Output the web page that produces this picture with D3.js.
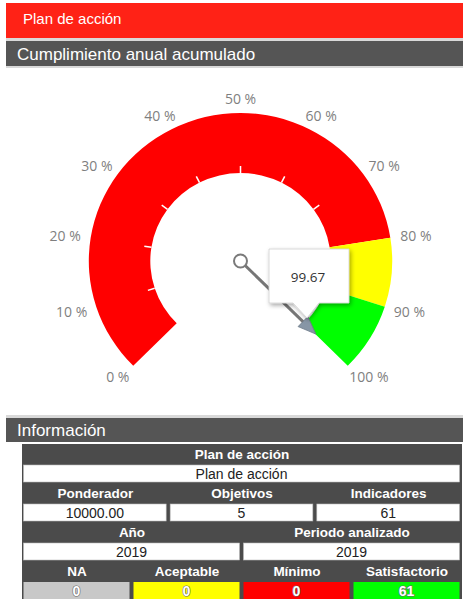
<!DOCTYPE html>
<html><head><meta charset="utf-8">
<script src="https://cdn.jsdelivr.net/npm/d3@7"></script>
<style>body{margin:0;background:#fff;overflow:hidden}svg{display:block}</style>
</head><body>
<script>
// ---- data ----
const titleMain = "Plan de acción";
const titleGauge = "Cumplimiento anual acumulado";
const titleInfo = "Información";
const gaugeValue = 99.67;
const bandFrom = [0, 80, 90];
const bandTo = [80, 90, 100];
const bandColors = ["#ff0000", "#ffff00", "#00ff00"];
const tickValues = [0, 10, 20, 30, 40, 50, 60, 70, 80, 90, 100];
const minorTicks = [10, 20, 30, 40, 50, 60, 70];
const rowHeaders1 = ["Plan de acción"];
const rowValues1 = ["Plan de acción"];
const rowHeaders2 = ["Ponderador", "Objetivos", "Indicadores"];
const rowValues2 = ["10000.00", "5", "61"];
const rowHeaders3 = ["Año", "Periodo analizado"];
const rowValues3 = ["2019", "2019"];
const rowHeaders4 = ["NA", "Aceptable", "Mínimo", "Satisfactorio"];
const rowValues4 = ["0", "0", "0", "61"];
const rowColors4 = ["#c8c8c8", "#ffff00", "#ff0000", "#00ff00"];

const W = 463, H = 599;
const svg = d3.select("body").append("svg").attr("width", W).attr("height", H);
const defs = svg.append("defs");
const f = defs.append("filter").attr("id", "sh").attr("x", "-30%").attr("y", "-30%").attr("width", "160%").attr("height", "160%");
f.append("feDropShadow").attr("dx", 1.5).attr("dy", 2).attr("stdDeviation", 2).attr("flood-color", "#000").attr("flood-opacity", 0.35);

// ---- header bars ----
svg.append("rect").attr("x", 6).attr("y", 3).attr("width", W - 6).attr("height", 35).attr("fill", "#ff2216");
svg.append("text").attr("x", 23).attr("y", 24).attr("fill", "#fff")
  .attr("font-family", "Liberation Sans, Arial, sans-serif").attr("font-size", 15).text(titleMain);
svg.append("rect").attr("x", 6).attr("y", 38).attr("width", W - 6).attr("height", 3).attr("fill", "#d9d9d9");
svg.append("rect").attr("x", 6).attr("y", 41).attr("width", W - 6).attr("height", 25).attr("fill", "#555555");
svg.append("rect").attr("x", 6).attr("y", 66).attr("width", W - 6).attr("height", 2).attr("fill", "#d9d9d9");
svg.append("text").attr("x", 17).attr("y", 59.5).attr("fill", "#fff")
  .attr("font-family", "Liberation Sans, Arial, sans-serif").attr("font-size", 17).text(titleGauge);

// ---- gauge ----
const cx = 240.5, cy = 261, rOut = 148, rIn = 88, sx = 1.025;
const ang = d3.scaleLinear().domain([0, 100]).range([-135, 135]);
const rad = d => ang(d) * Math.PI / 180;
const g = svg.append("g").attr("transform", `translate(${cx},${cy})`);
const ga = g.append("g").attr("transform", `scale(${sx},1)`);
const arc = d3.arc().innerRadius(rIn).outerRadius(rOut);
ga.selectAll("path.band").data(bandFrom).join("path").attr("class", "band")
  .attr("d", (d, i) => arc({startAngle: rad(d), endAngle: rad(bandTo[i])}))
  .attr("fill", (d, i) => bandColors[i]);
ga.selectAll("line.tick").data(minorTicks).join("line").attr("class", "tick")
  .attr("x1", d => Math.sin(rad(d)) * rIn).attr("y1", d => -Math.cos(rad(d)) * rIn)
  .attr("x2", d => Math.sin(rad(d)) * (rIn + 7)).attr("y2", d => -Math.cos(rad(d)) * (rIn + 7))
  .attr("stroke", "#fff").attr("stroke-width", 1.5);
const labels = g.selectAll("text.lbl").data(tickValues).join("text").attr("class", "lbl")
  .attr("font-family", "Open Sans, Liberation Sans, sans-serif").attr("font-size", 14)
  .attr("fill", "#7f7f7f").attr("text-anchor", "middle").attr("dominant-baseline", "central")
  .text(d => d + " %");
labels.each(function(d) {
  const w = this.getComputedTextLength();
  const a = rad(d);
  const R = 157;
  const x = Math.sin(a) * R * sx + Math.sin(a) * (w / 2 + 1);
  const y = -Math.cos(a) * R - Math.cos(a) * 6;
  d3.select(this).attr("x", x).attr("y", y);
});

// needle
const na = rad(gaugeValue);
const nLen = 105;
const ux = Math.sin(na), uy = -Math.cos(na);
const tipX = ux * nLen, tipY = uy * nLen;
g.append("line").attr("x1", ux * 6.5).attr("y1", uy * 6.5)
  .attr("x2", ux * (nLen - 14)).attr("y2", uy * (nLen - 14))
  .attr("stroke", "#767676").attr("stroke-width", 3);
const px = -uy, py = ux;
g.append("path")
  .attr("d", `M${tipX},${tipY} L${ux*(nLen-18)+px*7},${uy*(nLen-18)+py*7} L${ux*(nLen-18)-px*7},${uy*(nLen-18)-py*7} Z`)
  .attr("fill", "#8796a6").attr("stroke", "#6c7a88").attr("stroke-width", 0.8);
g.append("circle").attr("r", 6.5).attr("fill", "#fff").attr("stroke", "#7a7a7a").attr("stroke-width", 2);

// tooltip
const bx = 269, by = 249, bw = 80, bh = 54;
const tip = svg.append("g");
tip.append("path")
  .attr("d", `M${bx},${by} H${bx+bw} V${by+bh} H${bx+50} L${bx+38},${by+bh+15} L${bx+24},${by+bh} H${bx} Z`)
  .attr("fill", "#fff").attr("stroke", "#d0d0d0").attr("stroke-width", 0.8).attr("filter", "url(#sh)");
tip.append("text").attr("x", bx + bw / 2 - 1).attr("y", by + bh / 2 + 1).attr("text-anchor", "middle")
  .attr("dominant-baseline", "central").attr("font-family", "Open Sans, sans-serif").attr("font-size", 13.5)
  .attr("fill", "#333").text(gaugeValue.toFixed(2));

// ---- info header ----
svg.append("rect").attr("x", 6).attr("y", 415).attr("width", W - 6).attr("height", 3).attr("fill", "#d9d9d9");
svg.append("rect").attr("x", 6).attr("y", 418).attr("width", W - 6).attr("height", 24).attr("fill", "#555555");
svg.append("text").attr("x", 17).attr("y", 435.5).attr("fill", "#fff")
  .attr("font-family", "Liberation Sans, Arial, sans-serif").attr("font-size", 17).text(titleInfo);

// ---- table ----
const tx = 22, tw = W - 22 - 1, ty = 444, rh = 19.5;
svg.append("rect").attr("x", tx).attr("y", ty).attr("width", tw).attr("height", H - ty).attr("fill", "#4b4b4b");
const rows = [
  {h: rowHeaders1, v: rowValues1},
  {h: rowHeaders2, v: rowValues2},
  {h: rowHeaders3, v: rowValues3},
  {h: rowHeaders4, v: rowValues4, c: rowColors4}
];
const tbl = svg.append("g").attr("font-family", "Liberation Sans, Arial, sans-serif");
rows.forEach((row, ri) => {
  const yH = ty + ri * 2 * rh, yV = yH + rh;
  const x = d3.scaleBand().domain(d3.range(row.h.length)).range([tx, tx + tw]).paddingInner(0);
  row.h.forEach((t, i) => {
    tbl.append("text").attr("x", x(i) + x.bandwidth() / 2).attr("y", yH + 14.5)
      .attr("text-anchor", "middle").attr("fill", "#fff").attr("font-weight", "bold")
      .attr("font-size", 13.5).text(t);
  });
  row.v.forEach((t, i) => {
    const x0 = x(i) + 1.5, w = x.bandwidth() - 4;
    tbl.append("rect").attr("x", x0).attr("y", yV + 1.5).attr("width", w).attr("height", rh - 2.5)
      .attr("fill", row.c ? row.c[i] : "#fff").attr("stroke", row.c ? "none" : "#bbb").attr("stroke-width", 0.6);
    const tt = tbl.append("text").attr("x", x0 + w / 2).attr("y", yV + 15)
      .attr("text-anchor", "middle").attr("font-size", 14).text(t);
    if (row.c) {
      tt.attr("fill", "#fff").attr("font-weight", "bold").attr("stroke", "#666").attr("stroke-width", 1.2)
        .attr("paint-order", "stroke");
    } else {
      tt.attr("fill", "#222");
    }
  });
});
</script>
</body></html>
